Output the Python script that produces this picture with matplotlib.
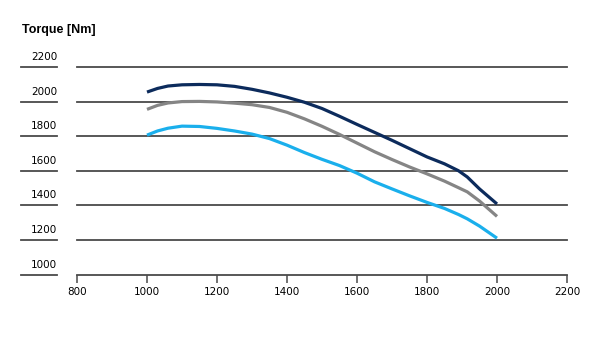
import matplotlib.pyplot as plt
import matplotlib.transforms as mtransforms

# engine speed [rpm] and torque [Nm] for the three engine variants
rpm = [1000, 1030, 1060, 1100, 1150, 1200, 1250, 1300, 1350, 1400, 1450, 1500,
       1550, 1600, 1650, 1700, 1750, 1800, 1850, 1890, 1915, 1950, 2000]
torque_dark = [2055, 2076, 2090, 2097, 2099, 2097, 2088, 2071, 2050, 2025, 1996, 1960,
               1915, 1868, 1822, 1776, 1728, 1680, 1640, 1600, 1564, 1495, 1408]
torque_gray = [1955, 1978, 1992, 2000, 2001, 1998, 1991, 1982, 1966, 1938, 1900, 1857,
               1810, 1760, 1710, 1665, 1622, 1582, 1540, 1502, 1478, 1425, 1336]
torque_blue = [1806, 1830, 1846, 1858, 1856, 1845, 1830, 1812, 1786, 1748, 1705, 1666,
               1630, 1586, 1536, 1495, 1455, 1417, 1382, 1347, 1322, 1280, 1210]

x_ticks = [800, 1000, 1200, 1400, 1600, 1800, 2000, 2200]
y_ticks = [1000, 1200, 1400, 1600, 1800, 2000, 2200]

W, H = 600, 337
fig = plt.figure(figsize=(W / 100, H / 100), dpi=100)
fig.patch.set_facecolor('white')
ax = fig.add_axes([77 / W, 1 - 274.5 / H, 490 / W, 207.5 / H])
ax.set_xlim(800, 2200)
ax.set_ylim(1000, 2200)

grid_col = '#4a4a4a'
for v in y_ticks[1:]:
    ax.axhline(v, color=grid_col, lw=1.3, zorder=1, clip_on=False)

for s in ['top', 'right', 'left']:
    ax.spines[s].set_visible(False)
ax.spines['bottom'].set_color(grid_col)
ax.spines['bottom'].set_linewidth(1.3)

ax.set_xticks(x_ticks)
ax.tick_params(axis='x', direction='out', length=6, width=1.1, color=grid_col,
               labelsize=7.5, pad=3)
ax.set_yticks([])

ax.plot(rpm, torque_dark, color='#0c2b5c', lw=2.3, solid_capstyle='butt',
        solid_joinstyle='round', zorder=3)
ax.plot(rpm, torque_gray, color='#858585', lw=2.3, solid_capstyle='butt',
        solid_joinstyle='round', zorder=3)
ax.plot(rpm, torque_blue, color='#1aafec', lw=2.3, solid_capstyle='butt',
        solid_joinstyle='round', zorder=3)

# y labels sit on short underlines left of the plot
trans = mtransforms.blended_transform_factory(fig.transFigure, ax.transData)
for v in y_ticks:
    ax.plot([21 / W, 57 / W], [v, v], transform=trans, color=grid_col, lw=1.3, clip_on=False)
    ax.annotate(str(v), xy=(57 / W, v), xycoords=trans, xytext=(0, 3.5),
                textcoords='offset points', ha='right', va='bottom', fontsize=7.5)

fig.text(22 / W, 1 - 30 / H, 'Torque [Nm]', fontsize=9, fontweight='bold',
         family='Liberation Sans', ha='left', va='center')

fig.savefig('out.png', dpi=100)
